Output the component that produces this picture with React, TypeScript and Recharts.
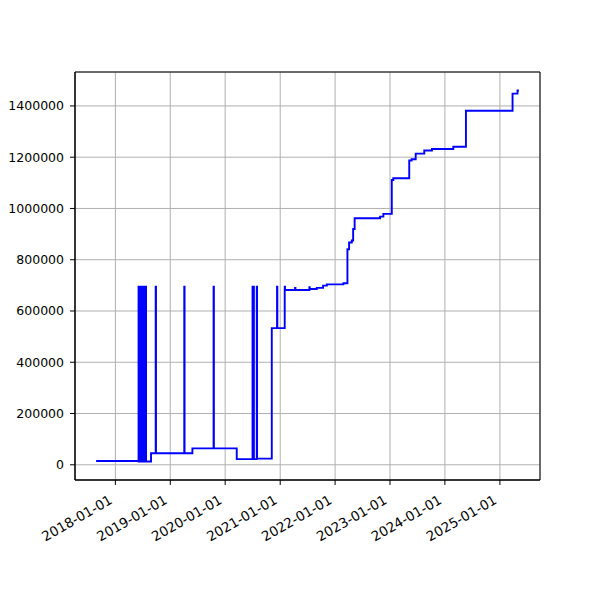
import React from "react";
import {
  LineChart,
  Line,
  XAxis,
  YAxis,
  CartesianGrid,
  ReferenceArea,
} from "recharts";

// Recorded dates and the value on each date (step series)
const dates = [
  "2017-08-26",
  "2018-06-04", "2018-06-05", "2018-06-07", "2018-06-08", "2018-06-10",
  "2018-06-11", "2018-06-13", "2018-06-14", "2018-06-19", "2018-06-20",
  "2018-06-22", "2018-06-23", "2018-06-25", "2018-06-26", "2018-06-28",
  "2018-06-29", "2018-07-01", "2018-07-02", "2018-07-04", "2018-07-05",
  "2018-07-07", "2018-07-08", "2018-07-10", "2018-07-11", "2018-07-13",
  "2018-07-14", "2018-07-16", "2018-07-17", "2018-07-20", "2018-07-21",
  "2018-07-23", "2018-07-24",
  "2018-08-26", "2018-09-26", "2018-09-28",
  "2019-04-04", "2019-04-06", "2019-05-28",
  "2019-10-16", "2019-10-18",
  "2020-03-18", "2020-07-01", "2020-07-03", "2020-07-08", "2020-07-10",
  "2020-07-29", "2020-07-31",
  "2020-11-06", "2020-12-11", "2020-12-13",
  "2021-01-31", "2021-02-02", "2021-04-10", "2021-04-12",
  "2021-07-14", "2021-07-16", "2021-09-01", "2021-10-13", "2021-11-07",
  "2022-02-25", "2022-03-24", "2022-04-04", "2022-04-22", "2022-05-01",
  "2022-05-11", "2022-10-27", "2022-11-18",
  "2023-01-13", "2023-01-23", "2023-05-09", "2023-05-25", "2023-06-21",
  "2023-08-17", "2023-10-07",
  "2024-02-26", "2024-05-20",
  "2025-03-26", "2025-04-28", "2025-05-07",
];

const values = [
  15000,
  695000, 13000, 695000, 13000, 695000,
  13000, 695000, 13000, 695000, 13000,
  695000, 13000, 695000, 13000, 695000,
  13000, 695000, 13000, 695000, 13000,
  695000, 13000, 695000, 13000, 695000,
  13000, 695000, 13000, 695000, 13000,
  695000, 13000,
  45000, 695000, 45000,
  695000, 45000, 64000,
  695000, 64000,
  22000, 695000, 22000, 695000, 22000,
  695000, 24000,
  533000, 695000, 533000,
  695000, 682000, 690000, 682000,
  693000, 686000, 690000, 699000, 704000,
  708000, 841000, 867000, 875000, 920000,
  962000, 968000, 979000,
  1111000, 1118000, 1187000, 1192000, 1214000,
  1226000, 1232000,
  1241000, 1381000,
  1448000, 1460000, 1460000,
];

const yTicks = [0, 200000, 400000, 600000, 800000, 1000000, 1200000, 1400000];
const tickYears = [2018, 2019, 2020, 2021, 2022, 2023, 2024, 2025];

const toTime = (s: string) => {
  const [y, m, d] = s.split("-").map(Number);
  return Date.UTC(y, m - 1, d);
};

const data = dates.map((d, i) => ({ t: toTime(d), v: values[i] }));
const xTicks = tickYears.map((y) => Date.UTC(y, 0, 1));

// matplotlib-like 5% margins
const tMin = data[0].t;
const tMax = data[data.length - 1].t;
const tPad = (tMax - tMin) * 0.05;
const xDomain: [number, number] = [tMin - tPad, tMax + tPad];
const vMin = Math.min(...values);
const vMax = Math.max(...values);
const vPad = (vMax - vMin) * 0.05;
const yDomain: [number, number] = [vMin - vPad, vMax + vPad];

const FONT = "DejaVu Sans";

const DateTick = (props: any) => {
  const { x, y, payload } = props;
  const label = new Date(payload.value).toISOString().slice(0, 10);
  const ax = x - 2.1;
  const ay = y + 13.6;
  return (
    <text
      x={ax}
      y={ay}
      textAnchor="end"
      transform={`rotate(-30, ${ax}, ${ay})`}
      fontSize={13.5}
      fontFamily={FONT}
      fill="#000"
    >
      {label}
    </text>
  );
};

export default function App() {
  return (
    <div style={{ position: "absolute", left: 0, top: 0, background: "#fff" }}>
      <LineChart
        width={600}
        height={600}
        data={data}
        margin={{ top: 72, right: 60, left: 0, bottom: 0 }}
      >
        <CartesianGrid stroke="#b0b0b0" strokeWidth={1} />
        <XAxis
          dataKey="t"
          type="number"
          scale="time"
          domain={xDomain}
          ticks={xTicks}
          interval={0}
          allowDataOverflow
          height={120}
          tickSize={5}
          tickMargin={4}
          tick={<DateTick />}
          axisLine={{ stroke: "#000" }}
          tickLine={{ stroke: "#000" }}
        />
        <YAxis
          type="number"
          domain={yDomain}
          ticks={yTicks}
          interval={0}
          allowDataOverflow
          width={75}
          tickSize={5}
          tickMargin={6}
          tick={{ fill: "#000", fontSize: 12.5, fontFamily: FONT }}
          axisLine={{ stroke: "#000" }}
          tickLine={{ stroke: "#000" }}
        />
        <Line
          type="stepAfter"
          dataKey="v"
          stroke="#0000ff"
          strokeWidth={1.9}
          dot={false}
          isAnimationActive={false}
        />
        <ReferenceArea
          x1={xDomain[0]}
          x2={xDomain[1]}
          y1={yDomain[0]}
          y2={yDomain[1]}
          fill="none"
          stroke="#000"
          strokeWidth={1}
          fillOpacity={0}
          ifOverflow="visible"
        />
      </LineChart>
    </div>
  );
}
